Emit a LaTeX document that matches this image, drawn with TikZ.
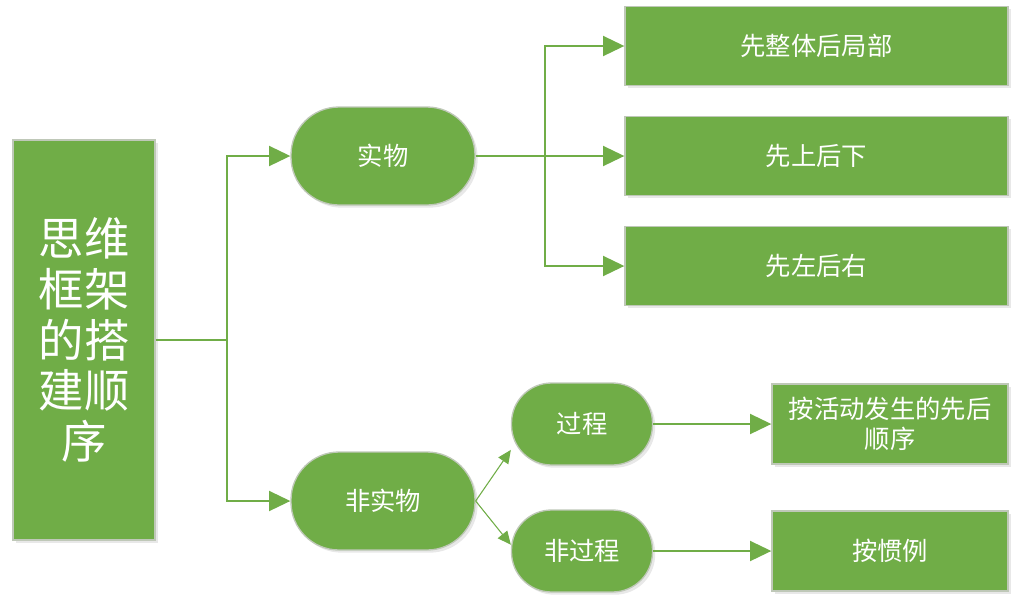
\documentclass[tikz,border=0pt]{standalone}
\usepackage{fontspec}
\newfontfamily\cjk{Noto Sans CJK SC}
\usetikzlibrary{arrows.meta,shadows}

\definecolor{leafgreen}{HTML}{70AD47}
\definecolor{edgegray}{HTML}{BFC8B8}

\tikzset{
  box/.style={rectangle, fill=leafgreen, draw=edgegray, line width=1pt,
    text=white, inner sep=0pt, align=center,
    drop shadow={opacity=0.18, shadow xshift=2pt, shadow yshift=-2pt},
    font=\cjk\fontsize{19pt}{23pt}\selectfont},
  pill/.style={box, rounded corners=#1},
  arr/.style={draw=leafgreen, line width=1.5pt,
    -{Triangle[length=16pt, width=15pt]}},
  thinarr/.style={draw=leafgreen, line width=0.8pt,
    -{Triangle[length=10pt, width=9pt]}}
}

\begin{document}
\begin{tikzpicture}[x=0.75pt, y=-0.75pt]

    \useasboundingbox (0,0) rectangle (1024,612);

    % Root
    \node[box, minimum width=106.5pt, minimum height=300pt,
      font=\cjk\fontsize{34pt}{38pt}\selectfont] (root) at (84,340)
      {思维\\框架\\的搭\\建顺\\序};

    % Second level
    \node[pill=36pt, minimum width=138pt, minimum height=73.5pt] (shiwu) at (383,156) {实物};
    \node[pill=36pt, minimum width=138pt, minimum height=73.5pt] (feishiwu) at (383,501) {非实物};

    % Third level
    \node[pill=30pt, minimum width=105.75pt, minimum height=61.5pt] (guocheng) at (582,424) {过程};
    \node[pill=30pt, minimum width=105.75pt, minimum height=61.5pt] (feiguocheng) at (582,551) {非过程};

    % Leaves
    \node[box, minimum width=287.25pt, minimum height=59.25pt] (zhengti) at (816.5,46) {先整体后局部};
    \node[box, minimum width=287.25pt, minimum height=59.25pt] (shangxia) at (816.5,156) {先上后下};
    \node[box, minimum width=287.25pt, minimum height=59.25pt] (zuoyou) at (816.5,266) {先左后右};
    \node[box, minimum width=177pt, minimum height=60pt] (xianhou) at (890,424) {按活动发生的先后\\顺序};
    \node[box, minimum width=177pt, minimum height=60pt] (guanli) at (890,551) {按惯例};

    % Forks
    \coordinate (fork1) at (227,340);
    \coordinate (fork2) at (545,156);

    % Connectors
    \draw[arr] (root.east) -- (fork1) |- (shiwu.west);
    \draw[arr] (fork1) |- (feishiwu.west);

    \draw[arr] (shiwu.east) -- (shangxia.west);
    \draw[arr] (fork2) |- (zhengti.west);
    \draw[arr] (fork2) |- (zuoyou.west);

    \draw[thinarr] (feishiwu.east) -- (guocheng.200);
    \draw[thinarr] (feishiwu.east) -- (feiguocheng.175);

    \draw[arr] (guocheng.east) -- (xianhou.west);
    \draw[arr] (feiguocheng.east) -- (guanli.west);

\end{tikzpicture}
\end{document}
